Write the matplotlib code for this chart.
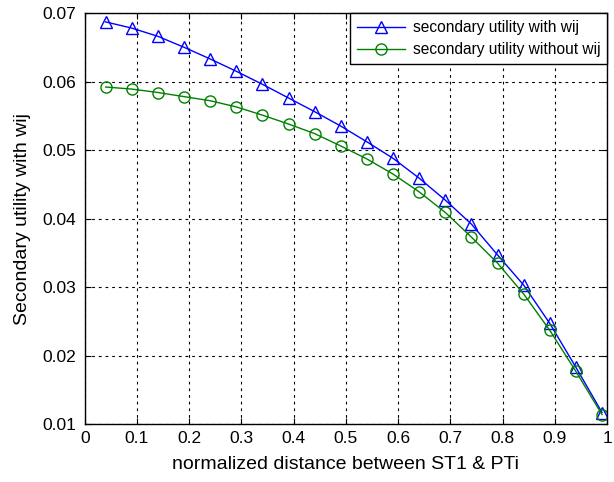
import matplotlib
matplotlib.use('Agg')
import matplotlib.pyplot as plt
import numpy as np

plt.rcParams['font.family'] = ['Liberation Sans', 'DejaVu Sans']

# normalized distance values
dist = [0.04, 0.09, 0.14, 0.19, 0.24, 0.29, 0.34, 0.39, 0.44, 0.49,
        0.54, 0.59, 0.64, 0.69, 0.74, 0.79, 0.84, 0.89, 0.94, 0.99]
util_with = [0.0687, 0.0678, 0.0666, 0.0650, 0.0633, 0.0615, 0.0596, 0.0576, 0.0556, 0.0535,
             0.0512, 0.0488, 0.0459, 0.0427, 0.0392, 0.0347, 0.0303, 0.0247, 0.0183, 0.0117]
util_without = [0.0592, 0.0589, 0.0584, 0.0578, 0.0572, 0.0563, 0.0551, 0.0538, 0.0524, 0.0506,
                0.0487, 0.0465, 0.0439, 0.0409, 0.0373, 0.0335, 0.0290, 0.0237, 0.0177, 0.0114]

fig = plt.figure(figsize=(6.14, 4.82), dpi=100)
ax = fig.add_axes([0.138, 0.120, 0.851, 0.853])

ax.plot(dist, util_with, color='#0000ff', lw=1.0, marker='^', ms=8.5,
        mfc='none', mec='#0000ff', mew=1.0, label='secondary utility with wij')
ax.plot(dist, util_without, color='#008000', lw=1.0, marker='o', ms=8,
        mfc='none', mec='#008000', mew=1.0, label='secondary utility without wij')

ax.set_xlim(0, 1)
ax.set_ylim(0.01, 0.07)
ax.set_xticks(np.arange(0, 1.01, 0.1))
ax.set_xticklabels(['0', '0.1', '0.2', '0.3', '0.4', '0.5', '0.6', '0.7', '0.8', '0.9', '1'])
ax.set_yticks(np.arange(0.01, 0.0701, 0.01))
ax.set_yticklabels(['0.01', '0.02', '0.03', '0.04', '0.05', '0.06', '0.07'])

ax.grid(True, color='black', linestyle=(0, (2.5, 3.5)), linewidth=0.8)
ax.tick_params(direction='in', top=True, right=True, labelsize=12.5, length=4)
ax.tick_params(axis='y', pad=6)
ax.tick_params(axis='x', pad=5)
for s in ax.spines.values():
    s.set_linewidth(1.0)

ax.set_xlabel('normalized distance between ST1 & PTi', fontsize=14, labelpad=7)
ax.set_ylabel('Secondary utility with wij', fontsize=14, labelpad=8)

leg = ax.legend(loc='upper right', fontsize=11.2, fancybox=False, framealpha=1,
                edgecolor='black', borderaxespad=0, handlelength=3.1,
                borderpad=0.45, labelspacing=0.45, handletextpad=0.5)
leg.get_frame().set_linewidth(1.0)

fig.savefig('out.png', dpi=100)
